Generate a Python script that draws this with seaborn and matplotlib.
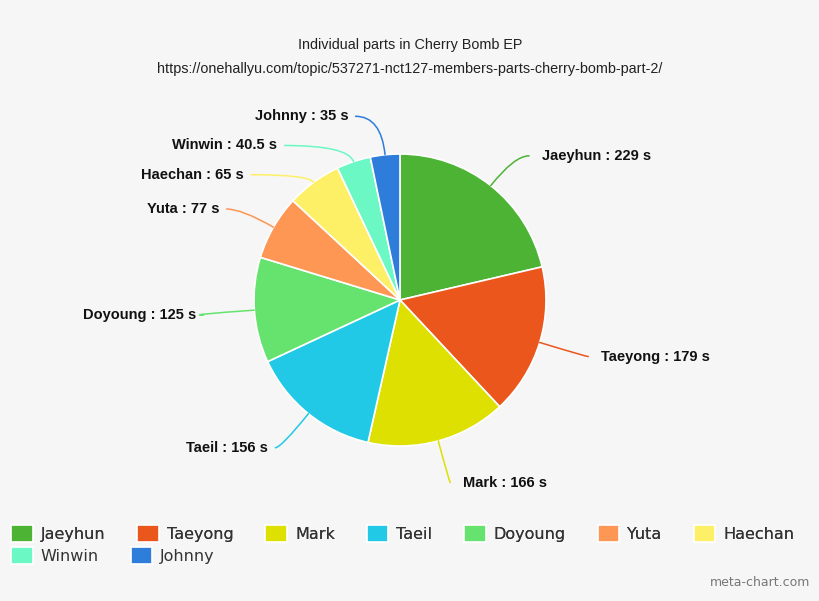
import numpy as np
import matplotlib
matplotlib.use("Agg")
import matplotlib.pyplot as plt
import seaborn as sns

members = ['Jaeyhun', 'Taeyong', 'Mark', 'Taeil', 'Doyoung', 'Yuta', 'Haechan', 'Winwin', 'Johnny']
seconds = [229, 179, 166, 156, 125, 77, 65, 40.5, 35]
value_labels = ['229', '179', '166', '156', '125', '77', '65', '40.5', '35']
hex_colors = ['#4cb335', '#eb561c', '#dde000', '#22c9e6', '#66e36e',
              '#fe9654', '#fef066', '#6cf8c4', '#2e7dda']

sns.set_theme(style="white")
plt.rcParams['font.family'] = ['Liberation Sans', 'DejaVu Sans']
palette = sns.color_palette(hex_colors)

bg = '#f6f6f6'
fig = plt.figure(figsize=(8.2, 6.01), dpi=100, facecolor=bg)
ax = fig.add_axes([0, 0, 1, 1])
ax.set_facecolor(bg)

wedges, _ = ax.pie(seconds, colors=palette, startangle=90, counterclock=False,
                   radius=1, wedgeprops=dict(edgecolor='white', linewidth=1.2))

# pie radius is 146 px, centre at (400, 300) px from top-left
px = 146
ax.set_xlim(-400 / px, 420 / px)
ax.set_ylim(-301 / px, 300 / px)
ax.set_aspect('equal')
ax.axis('off')

# label placement, highcharts-like: on a circle, pushed apart on each side
R = 1.28
gap = 0.2
info = []
for w, name, v in zip(wedges, members, value_labels):
    theta = np.deg2rad((w.theta1 + w.theta2) / 2)
    info.append(dict(theta=theta, name=name, v=v, y=R * np.sin(theta) - 0.015,
                     side=1 if np.cos(theta) >= 0 else -1, color=w.get_facecolor()))

for side in (1, -1):
    items = sorted([d for d in info if d['side'] == side], key=lambda d: -d['y'])
    for a, b in zip(items, items[1:]):
        if a['y'] - b['y'] < gap:
            b['y'] = a['y'] - gap

for d in info:
    y = d['y']
    x = d['side'] * (np.sqrt(max(R ** 2 - y ** 2, 0.0)) + 0.07)
    ex, ey = np.cos(d['theta']), np.sin(d['theta'])
    ax.annotate('', xy=(ex, ey), xytext=(x, y),
                arrowprops=dict(arrowstyle='-', color=d['color'], lw=1.1,
                                shrinkA=0, shrinkB=0,
                                connectionstyle='angle3,angleA=0,angleB=%f' % np.rad2deg(d['theta'])))
    pad = 0.09 if d['side'] > 0 else 0.05
    ax.text(x + d['side'] * pad, y, f"{d['name']} : {d['v']} s",
            ha='left' if d['side'] > 0 else 'right', va='center',
            fontsize=10.5, fontweight='bold', color='#111111')

fig.text(0.5, 1 - 45 / 601, 'Individual parts in Cherry Bomb EP',
         ha='center', va='center', fontsize=10.4, color='#222222')
fig.text(0.5, 1 - 69 / 601, 'https://onehallyu.com/topic/537271-nct127-members-parts-cherry-bomb-part-2/',
         ha='center', va='center', fontsize=10.4, color='#222222')

# legend flows row by row, like the original
leg_style = dict(loc='upper left', frameon=False, prop=dict(family='DejaVu Sans', size=11.5),
                 handlelength=1.35, handleheight=1.3, handletextpad=0.5,
                 columnspacing=2.0, labelcolor='#333333', borderaxespad=0, borderpad=0)
leg1 = fig.legend(wedges[:7], members[:7], ncol=7,
                  bbox_to_anchor=(11 / 820, 1 - 525 / 601), **leg_style)
fig.add_artist(leg1)
fig.legend(wedges[7:], members[7:], ncol=2,
           bbox_to_anchor=(11 / 820, 1 - 547 / 601), **leg_style)

fig.text(810 / 820, 1 - 582 / 601, 'meta-chart.com', ha='right', va='center',
         fontsize=9, color='#777777', family='DejaVu Sans')

fig.savefig('out.png', dpi=100, facecolor=bg)
